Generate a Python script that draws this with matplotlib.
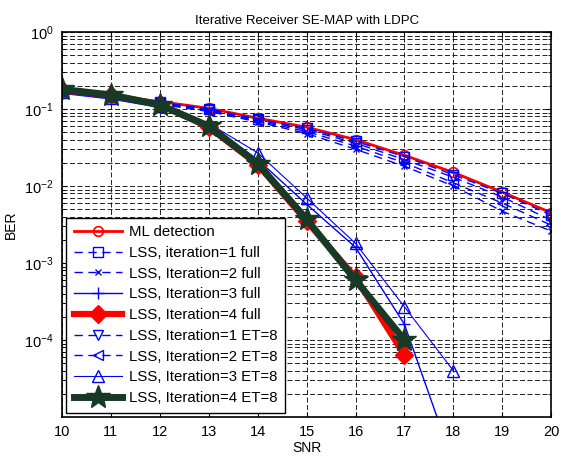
import numpy as np
import matplotlib.pyplot as plt

plt.rcParams['font.family'] = ['Liberation Sans', 'DejaVu Sans']

snr = [10, 11, 12, 13, 14, 15, 16, 17, 18, 19, 20]

ber_ml = [0.175, 0.148, 0.125, 0.102, 0.076, 0.058, 0.040, 0.025, 0.015, 0.0083, 0.0045]
ber_it1_full = [0.170, 0.145, 0.122, 0.100, 0.074, 0.056, 0.038, 0.024, 0.014, 0.0080, 0.0042]
ber_it2_full = [0.165, 0.140, 0.115, 0.093, 0.068, 0.048, 0.030, 0.018, 0.010, 0.0047, 0.0026]
ber_it1_et8 = [0.170, 0.144, 0.120, 0.098, 0.072, 0.054, 0.036, 0.022, 0.013, 0.0072, 0.0036]
ber_it2_et8 = [0.168, 0.142, 0.117, 0.095, 0.070, 0.051, 0.033, 0.020, 0.011, 0.0060, 0.0031]

snr_it3 = [10, 11, 12, 13, 14, 15, 16, 17, 18]
ber_it3_full = [0.160, 0.135, 0.105, 0.063, 0.022, 0.0058, 0.0016, 0.00016, 2.5e-6]
ber_it3_et8 = [0.165, 0.140, 0.108, 0.065, 0.027, 0.0070, 0.0018, 0.00027, 4e-5]

snr_it4 = [10, 11, 12, 13, 14, 15, 16, 17]
ber_it4_full = [0.175, 0.150, 0.115, 0.058, 0.019, 0.0035, 0.00065, 0.000064]
ber_it4_et8 = [0.180, 0.152, 0.113, 0.060, 0.0195, 0.0037, 0.00060, 0.00010]

fig = plt.figure(figsize=(5.61, 4.57), dpi=100)
ax = fig.add_axes([0.1105, 0.0875, 0.872, 0.8425])

dash = (6, 4)
ax.semilogy(snr, ber_ml, '-o', color='red', lw=2, ms=7, mfc='none', mew=1.2, label='ML detection')
ax.semilogy(snr, ber_it1_full, '--s', color='blue', lw=1, ms=7, mfc='none', dashes=dash, label='LSS, iteration=1 full')
ax.semilogy(snr, ber_it2_full, '--x', color='blue', lw=1, ms=5, dashes=dash, label='LSS, Iteration=2 full')
ax.semilogy(snr_it3, ber_it3_full, '-+', color='blue', lw=1, ms=9, label='LSS, Iteration=3 full')
ax.semilogy(snr_it4, ber_it4_full, '-D', color='red', lw=4.5, ms=9, label='LSS, Iteration=4 full')
ax.semilogy(snr, ber_it1_et8, '--v', color='blue', lw=1, ms=7, mfc='none', dashes=dash, label='LSS, Iteration=1 ET=8')
ax.semilogy(snr, ber_it2_et8, '--<', color='blue', lw=1, ms=7, mfc='none', dashes=dash, label='LSS, Iteration=2 ET=8')
ax.semilogy(snr_it3, ber_it3_et8, '-^', color='blue', lw=0.8, ms=8, mfc='none', label='LSS, Iteration=3 ET=8')
ax.semilogy(snr_it4, ber_it4_et8, '-*', color='#173a26', lw=5, ms=18, label='LSS, Iteration=4 ET=8')

ax.set_xlim(10, 20)
ax.set_ylim(1e-5, 1)
ax.set_xticks(range(10, 21))
ax.set_yticks([1e0, 1e-1, 1e-2, 1e-3, 1e-4])

ax.grid(True, which='major', color='k', linestyle=(0, (6, 3)), lw=0.6)
ax.grid(True, which='minor', axis='y', color='k', linestyle=(0, (6, 3)), lw=0.6)
ax.tick_params(which='both', direction='in', top=True, right=True, labelsize=10.5, pad=6)
for s in ax.spines.values():
    s.set_linewidth(1.2)

ax.set_title('Iterative Receiver SE-MAP with LDPC', fontsize=9.5)
ax.set_xlabel('SNR', fontsize=10, labelpad=1)
ax.set_ylabel('BER', fontsize=10, labelpad=4)

leg = ax.legend(loc='lower left', fontsize=10.8, fancybox=False, framealpha=1,
                edgecolor='k', handlelength=3.2, borderaxespad=0.3, labelspacing=0.45,
                handletextpad=0.5, borderpad=0.5)
leg.get_frame().set_linewidth(1)

fig.savefig('out.png', dpi=100)
